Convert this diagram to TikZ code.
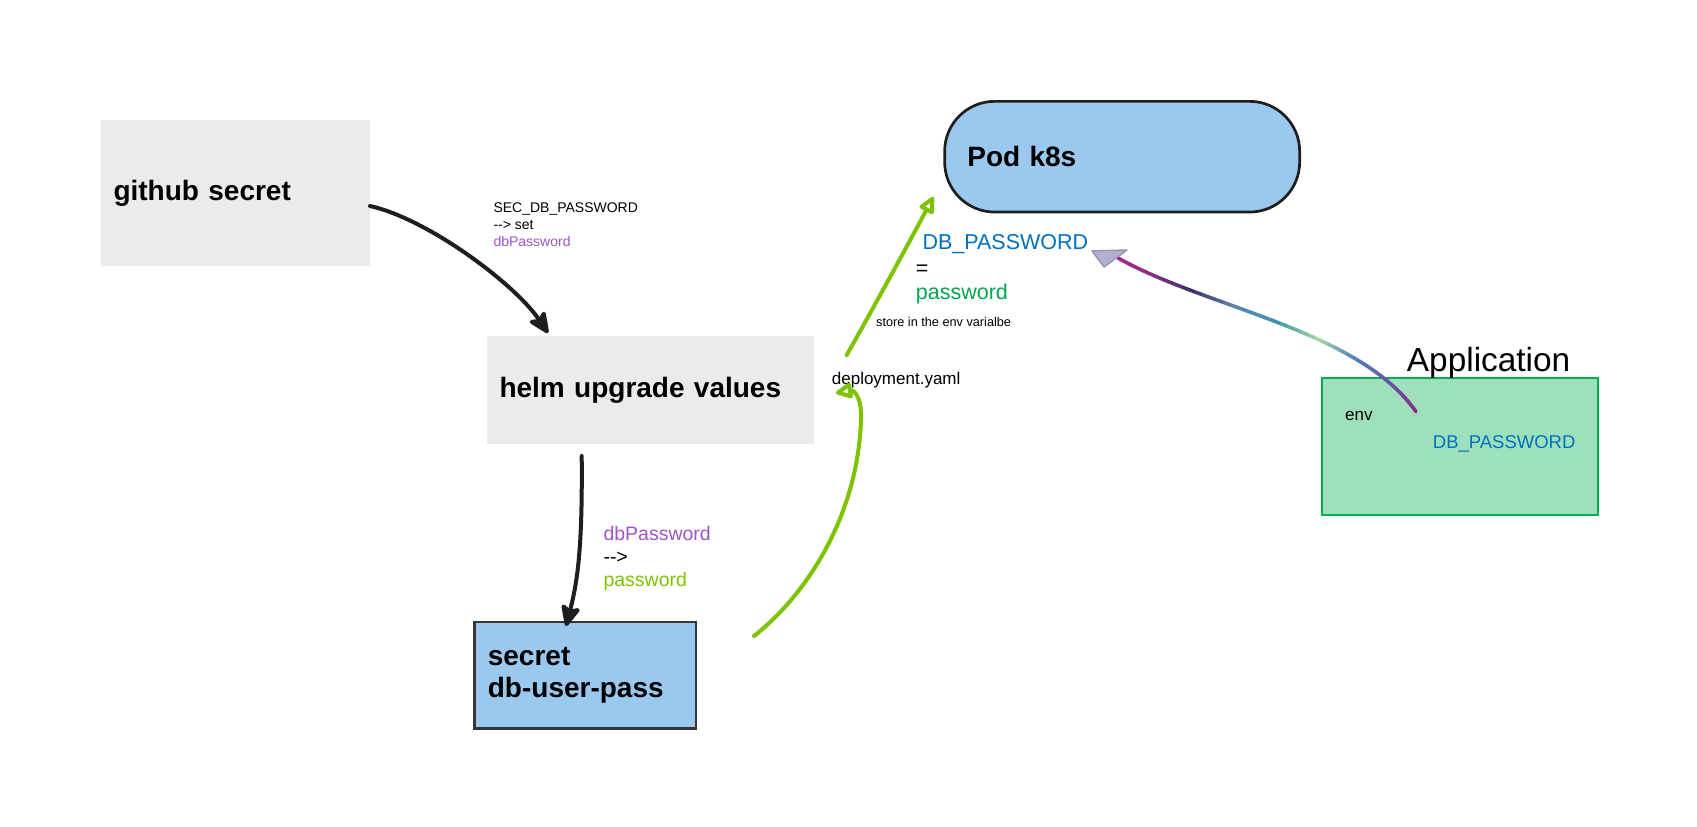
\documentclass[tikz,border=0pt]{standalone}
\usepackage{fontspec}
\setmainfont{Liberation Sans}
\usetikzlibrary{arrows.meta}
\definecolor{boxgray}{HTML}{EBEBEB}
\definecolor{podblue}{HTML}{9BC8EE}
\definecolor{appgreen}{HTML}{9EE0BC}
\definecolor{appborder}{HTML}{00B050}
\definecolor{txtblue}{HTML}{0070C0}
\definecolor{txtgreen}{HTML}{00A651}
\definecolor{txtpurple}{HTML}{9E55C6}
\definecolor{limegreen}{HTML}{7DC300}
\definecolor{inkblack}{HTML}{1E1E1E}
\definecolor{g0}{HTML}{8A2C8C}
\definecolor{g1}{HTML}{6A55A5}
\definecolor{g2}{HTML}{4F7FBA}
\definecolor{g3}{HTML}{A8D8A8}
\definecolor{g4}{HTML}{3E93B0}
\definecolor{g5}{HTML}{5A86AE}
\definecolor{g6}{HTML}{3F2E6A}
\definecolor{g7}{HTML}{8A2E8A}
\definecolor{g8}{HTML}{A8238C}
\definecolor{headlav}{HTML}{B4B0D4}
\begin{document}
\begin{tikzpicture}[x=1pt,y=-1pt,
  boxtitle/.style={font=\fontsize{28}{32.3}\selectfont\bfseries, align=left, inner ysep=0pt},
  graybox/.style={fill=boxgray, draw=none},
  lbl/.style={anchor=base west, inner sep=0pt},
  blackarrow/.style={draw=inkblack, line width=4pt, line cap=round,
     -{Stealth[length=25pt,width=22pt,inset=5pt,round]}},
  greenarrow/.style={draw=limegreen, line width=4pt, line cap=round,
     -{Triangle[open,length=19pt,width=17pt,round]}}]
\useasboundingbox (0,0) rectangle (1697,827);
\fill[white] (0,0) rectangle (1697,827);

% boxes
\node[graybox, boxtitle, anchor=north west, minimum height=146.7pt,
      inner xsep=12.3pt, text width=244.4pt] (gh) at (101,119.3) {github secret};
\node[graybox, boxtitle, anchor=north west, minimum height=107.3pt,
      inner xsep=12.6pt, text width=301.4pt] (helm) at (486.7,336) {helm upgrade values};
\node[fill=podblue, draw=inkblack, line width=2.7pt, rounded corners=50pt, boxtitle,
      anchor=north west, minimum height=110.7pt, inner xsep=22.7pt, text width=309.6pt]
      (pod) at (943.3,100) {Pod k8s};
\node[fill=podblue, draw=inkblack!90, line width=2.3pt, boxtitle, anchor=north west,
      minimum height=106.6pt, inner xsep=13.4pt, text width=194.9pt]
      (sec) at (473.3,620.7) {secret\\db-user-pass};
\node[fill=appgreen, draw=appborder, line width=2.3pt, anchor=north west,
      minimum width=276pt, minimum height=137.3pt, inner sep=0pt] (app) at (1320.7,376.7) {};

% texts
\node[lbl, font=\fontsize{33.4}{38}\selectfont] (apptitle) at (1406.7,371.7) {Application};
\node[lbl, font=\fontsize{17}{20}\selectfont] (env) at (1345,420.7) {env};
\node[lbl, font=\fontsize{18.5}{22}\selectfont, text=txtblue] (appdb) at (1432.7,448.3) {DB\_PASSWORD};

\node[lbl, font=\fontsize{14}{16}\selectfont] (s1) at (493.3,212.7) {SEC\_DB\_PASSWORD};
\node[lbl, font=\fontsize{14}{16}\selectfont] (s2) at (493.3,229.6) {{-}{-}> set};
\node[lbl, font=\fontsize{14}{16}\selectfont, text=txtpurple] (s3) at (493.3,246) {dbPassword};

\node[lbl, font=\fontsize{21.5}{24}\selectfont, text=txtblue] (p1) at (922.3,249.3) {DB\_PASSWORD};
\node[lbl, font=\fontsize{21.5}{24}\selectfont] (p2) at (915.7,275) {=};
\node[lbl, font=\fontsize{21.5}{24}\selectfont, text=txtgreen] (p3) at (915.7,299.3) {password};
\node[lbl, font=\fontsize{12.7}{15}\selectfont] (store) at (876,326.7) {store in the env varialbe};
\node[lbl, font=\fontsize{17}{20}\selectfont] (dep) at (831.7,384) {deployment.yaml};

\node[lbl, font=\fontsize{19.5}{23}\selectfont, text=txtpurple] (d1) at (603.3,540.7) {dbPassword};
\node[lbl, font=\fontsize{19.5}{23}\selectfont] (d2) at (603.3,563.5) {{-}{-}>};
\node[lbl, font=\fontsize{19.5}{23}\selectfont, text=limegreen] (d3) at (603.3,586.7) {password};

% connector end points
\coordinate (a1s) at (370,206);
\coordinate (a1e) at (548,333);
\coordinate (a2s) at (581.7,456);
\coordinate (a2e) at (566,626);
\coordinate (a3s) at (754,636);
\coordinate (a3m) at (861,420);
\coordinate (a3e) at (836,393);
\coordinate (a4s) at (846.7,355);
\coordinate (a4e) at (933.3,197);
\coordinate (gs) at (1416,411.7);
\coordinate (ge) at (1118,258);

% black arrows
\draw[blackarrow] (a1s) .. controls (428,219) and (515,284) .. (a1e);
\draw[blackarrow] (a2s) .. controls (582.5,545) and (578,580) .. (a2e);

% green arrows
\draw[greenarrow] (a3s) .. controls (812,590) and (858,510) .. (a3m)
   .. controls (862,395) and (853,390) .. (a3e);
\draw[greenarrow] (a4s) .. controls (875,305) and (905,250) .. (a4e);

% gradient arrow
\foreach \k/\ca/\cb in {0/g0/g1,1/g1/g2,2/g2/g3,3/g3/g4,4/g4/g5,5/g5/g6,6/g6/g7,7/g7/g8}{
  \foreach \j in {0,...,5}{
    \pgfmathsetmacro\ta{(\k*6+\j)/48}
    \pgfmathsetmacro\tb{min(1,(\k*6+\j+1)/48)}
    \pgfmathtruncatemacro\pc{\j*100/6}
    \path (gs) .. controls (1359,330) and (1207,308) .. (ge)
      coordinate[pos=\ta] (q1) coordinate[pos=\tb] (q2);
    \draw[line width=3.6pt, line cap=round, color=\cb!\pc!\ca] (q1) -- (q2);
  }
}
\filldraw[fill=headlav, draw=headlav!85!black, line width=1.5pt, line join=round]
  (1092,251) -- (1127,250) -- (1104,267) -- cycle;
\end{tikzpicture}
\end{document}
